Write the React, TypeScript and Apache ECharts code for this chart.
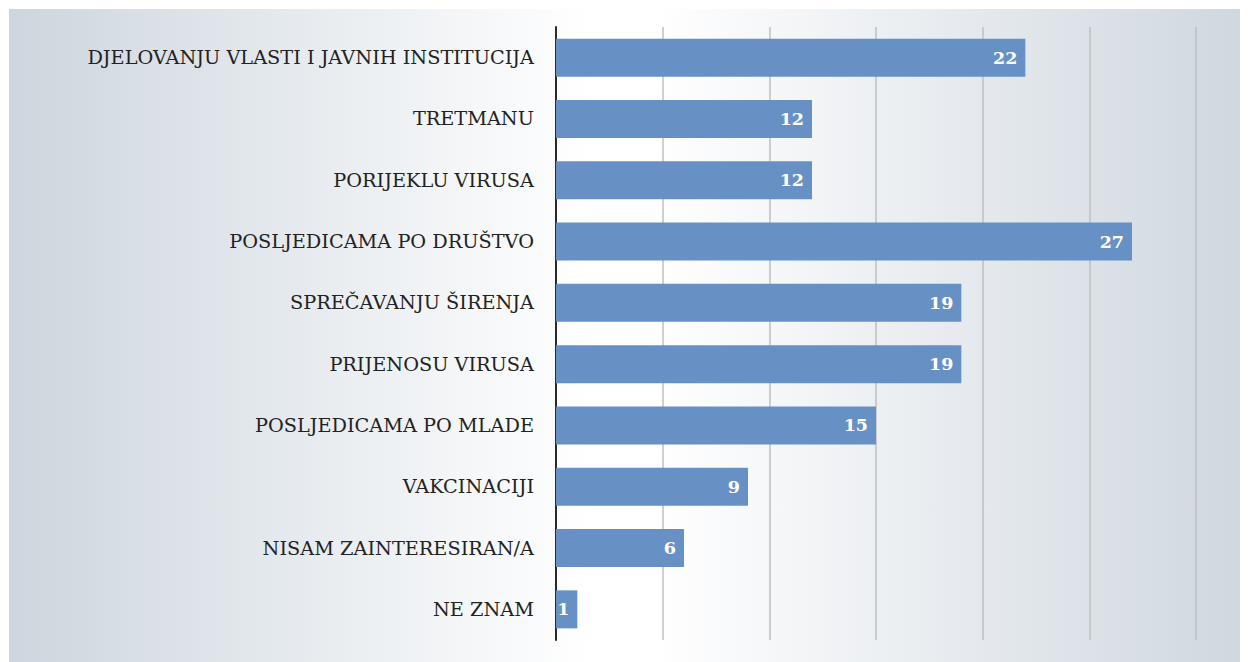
import React, { useEffect, useRef } from "react";
import * as echarts from "echarts";

const categories = [
  "DJELOVANJU VLASTI I JAVNIH INSTITUCIJA",
  "TRETMANU",
  "PORIJEKLU VIRUSA",
  "POSLJEDICAMA PO DRUŠTVO",
  "SPREČAVANJU ŠIRENJA",
  "PRIJENOSU VIRUSA",
  "POSLJEDICAMA PO MLADE",
  "VAKCINACIJI",
  "NISAM ZAINTERESIRAN/A",
  "NE ZNAM",
];
const values = [22, 12, 12, 27, 19, 19, 15, 9, 6, 1];

export default function App() {
  const ref = useRef<HTMLDivElement>(null);
  useEffect(() => {
    const chart = echarts.init(ref.current!, null, { renderer: "svg" });
    chart.setOption({
      animation: false,
      backgroundColor: {
        type: "linear",
        x: 0,
        y: 0,
        x2: 1,
        y2: 0,
        colorStops: [
          { offset: 0, color: "#cdd6de" },
          { offset: 0.47, color: "#ffffff" },
          { offset: 0.52, color: "#ffffff" },
          { offset: 1, color: "#cfd7df" },
        ],
      },
      grid: { left: 547, top: 18, width: 640, height: 613, containLabel: false },
      xAxis: {
        type: "value",
        min: 0,
        max: 30,
        interval: 5,
        axisLabel: { show: false },
        axisLine: { show: false },
        axisTick: { show: false },
        splitLine: { show: true, lineStyle: { color: "#bcbfc2", width: 1.5 } },
      },
      yAxis: {
        type: "category",
        data: categories,
        inverse: true,
        axisLine: { show: true, lineStyle: { color: "#2a2a2a", width: 2 } },
        axisTick: { show: false },
        axisLabel: {
          margin: 22,
          color: "#222",
          fontFamily: "DejaVu Serif",
          fontSize: 19.3,
        },
      },
      series: [
        {
          type: "bar",
          data: values,
          barWidth: 38,
          itemStyle: { color: "#6791c5" },
          z: 1,
          label: {
            show: true,
            position: "insideRight",
            distance: 8,
            color: "#ffffff",
            fontFamily: "DejaVu Serif",
            fontWeight: "bold",
            fontSize: 17.5,
          },
        },
      ],
    });
    return () => chart.dispose();
  }, []);
  return (
    <div
      ref={ref}
      style={{ width: 1239, height: 653, marginLeft: 1, marginTop: 1 }}
    />
  );
}
